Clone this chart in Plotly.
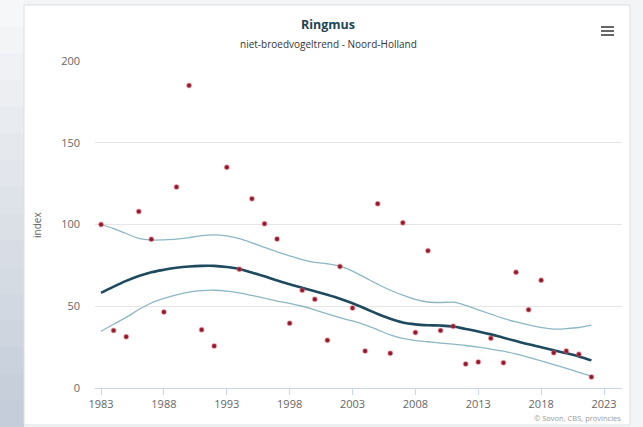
import plotly.graph_objects as go

# ---------------- data ----------------
years = list(range(1983, 2023))
index_values = [100, 35.1, 31.4, 108, 91, 46.5, 123, 185, 35.7, 25.7,
                135, 72.7, 115.7, 100.4, 91.2, 39.6, 59.8, 54.3, 29.2, 74.3,
                49, 22.7, 112.7, 21.2, 101, 33.9, 84, 35.1, 37.8, 14.7,
                15.9, 30.4, 15.5, 70.8, 47.8, 65.9, 21.6, 22.7, 20.6, 6.7]
trend = [58.2, 62, 65.5, 68.5, 70.8, 72.3, 73.5, 74.3, 74.7, 74.7,
         74.0, 72.8, 70.6, 68.3, 65.8, 63.4, 61.3, 59.2, 57.0, 54.6,
         51.8, 48.6, 45.3, 42.3, 40.0, 38.9, 38.4, 38.2, 37.6, 36.1,
         34.6, 32.8, 30.7, 28.7, 26.7, 24.9, 23.1, 21.3, 19.3, 16.9]
upper = [100, 97.5, 94.5, 91.5, 90.5, 90.6, 91, 92, 93.2, 93.7,
         93.0, 91.4, 88.8, 86, 83.3, 80.8, 78.5, 76.8, 76, 74.5,
         71.5, 67.5, 63.5, 59.8, 56.8, 54.2, 52.6, 52.3, 52.5, 50.5,
         47.8, 45.2, 42.6, 40.4, 38.6, 37.0, 36.0, 36.3, 37.0, 38.5]
lower = [34.7, 39, 43.2, 48, 52, 54.8, 57, 58.7, 59.6, 59.8,
         59.3, 58.2, 56.6, 54.9, 53.2, 51.8, 50, 47.8, 45.3, 43,
         41, 38.6, 35.6, 32.5, 30.3, 29.0, 28.3, 27.5, 26.8, 26.0,
         25.0, 23.8, 22.5, 20.8, 18.8, 16.6, 14.3, 12.0, 9.6, 7.2]
x_ticks = [1983, 1988, 1993, 1998, 2003, 2008, 2013, 2018, 2023]
y_ticks = [0, 50, 100, 150, 200]

title = "Ringmus"
subtitle = "niet-broedvogeltrend - Noord-Holland"
y_title = "index"
credits = "© Sovon, CBS, provincies"

# ---------------- layout geometry ----------------
W, H = 643, 427
L, R, T, B = 95, 622, 61, 388


def px(xp):
    return (xp - L) / (R - L)


def py(yp):
    return (B - yp) / (B - T)


FONT = "Open Sans, Noto Sans, DejaVu Sans, sans-serif"

fig = go.Figure()

fig.add_trace(go.Scatter(x=years, y=upper, mode="lines",
                         line=dict(color="#8db7c3", width=1.3, shape="spline"),
                         hoverinfo="skip", showlegend=False))
fig.add_trace(go.Scatter(x=years, y=lower, mode="lines",
                         line=dict(color="#8db7c3", width=1.3, shape="spline"),
                         hoverinfo="skip", showlegend=False))
fig.add_trace(go.Scatter(x=years, y=trend, mode="lines",
                         line=dict(color="#1e4a60", width=2.6, shape="spline"),
                         showlegend=False))
fig.add_trace(go.Scatter(x=years, y=index_values, mode="markers",
                         marker=dict(color="#8a1a2c", size=4.5,
                                     line=dict(color="rgba(225,90,110,0.4)", width=1.5)),
                         showlegend=False))

shapes = []
# left gradient strip outside the card
n = 16
c_top = (246, 247, 249)
c_bot = (196, 205, 217)
for i in range(n):
    t = i / (n - 1)
    c = tuple(int(c_top[k] + (c_bot[k] - c_top[k]) * t) for k in range(3))
    shapes.append(dict(type="rect", xref="paper", yref="paper", layer="below",
                       x0=px(0), x1=px(24), y0=py(H * i / n), y1=py(H * (i + 1) / n + 1),
                       fillcolor="rgb(%d,%d,%d)" % c, line=dict(width=0)))
# white card
shapes.append(dict(type="rect", xref="paper", yref="paper", layer="below",
                   x0=px(24), x1=px(630), y0=py(5), y1=py(425),
                   fillcolor="white", line=dict(color="#dedede", width=1)))
# hamburger menu icon
for yy in (27, 31, 35):
    shapes.append(dict(type="line", xref="paper", yref="paper",
                       x0=px(601), x1=px(614), y0=py(yy), y1=py(yy),
                       line=dict(color="#666666", width=2)))

annotations = [
    dict(text="<b>" + title + "</b>", xref="paper", yref="paper",
         x=px(328), y=py(24), showarrow=False, xanchor="center", yanchor="middle",
         font=dict(family=FONT, size=12.5, color="#1d4652")),
    dict(text=subtitle, xref="paper", yref="paper",
         x=px(328), y=py(44), showarrow=False, xanchor="center", yanchor="middle",
         font=dict(family=FONT, size=10, color="#333333")),
    dict(text=y_title, xref="paper", yref="paper", textangle=-90,
         x=px(37), y=py(225), showarrow=False, xanchor="center", yanchor="middle",
         font=dict(family=FONT, size=10, color="#666666")),
    dict(text=credits, xref="paper", yref="paper",
         x=px(623), y=py(418), showarrow=False, xanchor="right", yanchor="middle",
         font=dict(family=FONT, size=7.5, color="#9a9a9a")),
]

fig.update_layout(
    width=W, height=H,
    margin=dict(l=L, r=W - R, t=T, b=H - B, pad=0),
    paper_bgcolor="#f2f4f6",
    plot_bgcolor="rgba(0,0,0,0)",
    shapes=shapes,
    annotations=annotations,
    showlegend=False,
    font=dict(family=FONT, size=11, color="#666666"),
)
fig.update_xaxes(range=[1982.52, 2024.43], tickvals=x_ticks,
                 ticks="outside", ticklen=6, tickcolor="#ccd6eb",
                 showline=True, linecolor="#ccd6eb", linewidth=1,
                 showgrid=False, zeroline=False,
                 tickfont=dict(family=FONT, size=11, color="#666666"))
fig.update_yaxes(range=[0, 200], tickvals=y_ticks,
                 showgrid=True, gridcolor="#e6e6e6", gridwidth=1,
                 zeroline=False, showline=False, ticks="", ticklabelstandoff=14,
                 tickfont=dict(family=FONT, size=11, color="#666666"))

fig.write_html("out.html",
               config={"displayModeBar": False},
               post_script="document.body.style.margin='0';"
                           "document.body.style.overflow='hidden';")
